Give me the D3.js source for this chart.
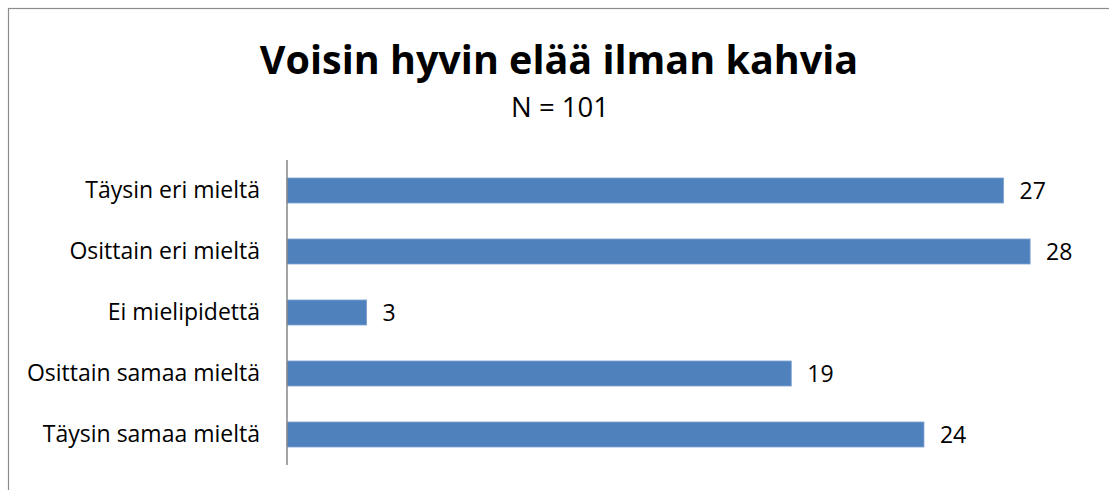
<!DOCTYPE html>
<html>
<head>
<meta charset="utf-8">
<script src="https://cdn.jsdelivr.net/npm/d3@7"></script>
<style>
  body { margin: 0; background: #fff; }
  svg { font-family: "Open Sans", Lato, sans-serif; }
  .yAxis .domain { stroke: #868686; stroke-width: 1.5; }
  .yAxis text { font-family: "Open Sans", Lato, sans-serif; font-size: 23px; fill: #000; }
</style>
</head>
<body>
<svg id="chart" width="1109" height="490"></svg>
<script>
const categories = ["Täysin eri mieltä", "Osittain eri mieltä", "Ei mielipidettä", "Osittain samaa mieltä", "Täysin samaa mieltä"];
const values = [27, 28, 3, 19, 24];
const title = "Voisin hyvin elää ilman kahvia";
const subtitle = "N = 101";

const svg = d3.select("#chart");
const W = 1109, H = 490;

// frame (only top and left edges show in the picture)
svg.append("rect")
    .attr("x", 8.5).attr("y", 8.5)
    .attr("width", W + 10).attr("height", H + 10)
    .attr("fill", "none")
    .attr("stroke", "#8c8c8c")
    .attr("stroke-width", 1.2);

svg.append("text")
    .attr("x", 559).attr("y", 74)
    .attr("text-anchor", "middle")
    .attr("font-weight", "bold")
    .attr("font-size", 39.5)
    .text(title);

svg.append("text")
    .attr("x", 560).attr("y", 117)
    .attr("text-anchor", "middle")
    .attr("font-size", 27.5)
    .text(subtitle);

const plot = {left: 287, top: 160, bottom: 465};

const xScale = d3.scaleLinear()
    .domain([0, 30])
    .range([plot.left, plot.left + 30 * 26.54]);

const yScale = d3.scaleBand()
    .domain(categories)
    .range([plot.top, plot.bottom])
    .paddingInner(0.59)
    .paddingOuter(0.295);

const bars = svg.append("g");
bars.selectAll("rect")
    .data(values)
    .enter()
    .append("rect")
    .attr("x", xScale(0))
    .attr("y", (d, i) => yScale(categories[i]))
    .attr("width", d => xScale(d) - xScale(0))
    .attr("height", yScale.bandwidth())
    .attr("fill", "#4f81bd")
    .attr("stroke", "#7ea2cf")
    .attr("stroke-width", 0.8);

bars.selectAll(".val")
    .data(values)
    .enter()
    .append("text")
    .attr("class", "val")
    .attr("x", d => xScale(d) + 16)
    .attr("y", (d, i) => yScale(categories[i]) + yScale.bandwidth() / 2)
    .attr("dy", "0.35em")
    .attr("font-size", 23)
    .text(d => d);

const yAxis = d3.axisLeft(yScale).tickSize(0).tickPadding(27);
svg.append("g")
    .attr("class", "axis yAxis")
    .attr("transform", "translate(" + plot.left + ",0)")
    .call(yAxis)
    .call(g => g.select(".domain").attr("d", "M0," + plot.top + "V" + plot.bottom));
</script>
</body>
</html>
